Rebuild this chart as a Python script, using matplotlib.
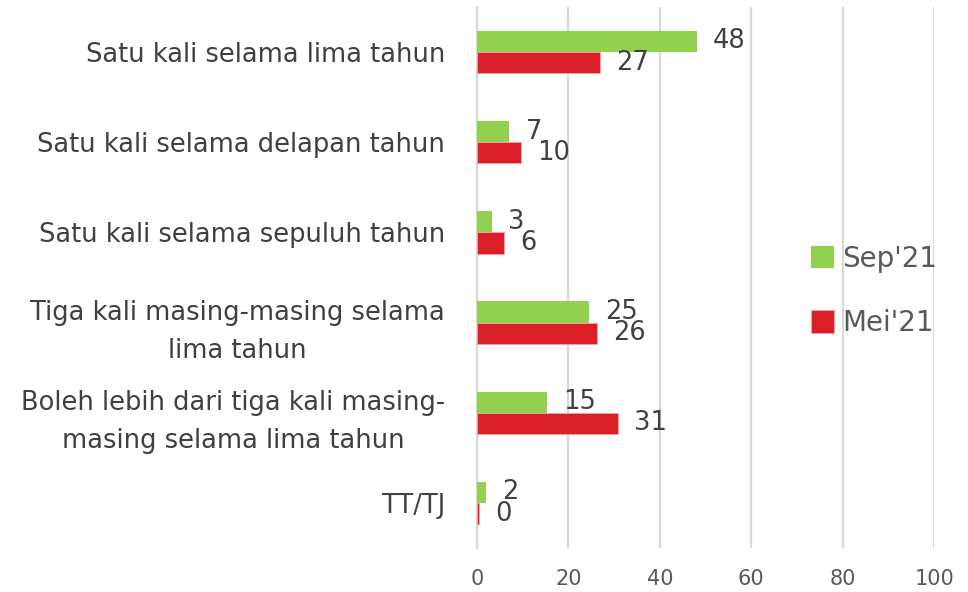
import matplotlib.pyplot as plt
import numpy as np

plt.rcParams['font.family'] = ['DejaVu Sans']

# data
categories = [
    "Satu kali selama lima tahun",
    "Satu kali selama delapan tahun",
    "Satu kali selama sepuluh tahun",
    "Tiga kali masing-masing selama\nlima tahun",
    "Boleh lebih dari tiga kali masing-\nmasing selama lima tahun",
    "TT/TJ",
]
sep21 = [48.1, 7.1, 3.2, 24.6, 15.4, 2.0]
mei21 = [27.0, 9.6, 6.0, 26.3, 30.8, 0.4]
series_names = ["Sep'21", "Mei'21"]
x_ticks = [0, 20, 40, 60, 80, 100]

green = '#92d050'
red = '#da1f28'
text_dark = '#404040'
grid_col = '#d9d9d9'

fig = plt.figure(figsize=(9.68, 5.92), dpi=100)
ax = fig.add_axes([0.4928, 0.0743, 0.4722, 0.9139])

y = np.arange(len(categories))
h = 0.235
b1 = ax.barh(y - h / 2, sep21, height=h, color=green, label=series_names[0], zorder=3)
b2 = ax.barh(y + h / 2, mei21, height=h, color=red, label=series_names[1], zorder=3,
             edgecolor='#f2a0a4', linewidth=0.6)

# value labels
for bars, vals in [(b1, sep21), (b2, mei21)]:
    for rect, v in zip(bars, vals):
        ax.annotate(f"{v:.0f}", xy=(rect.get_width(), rect.get_y() + rect.get_height() / 2),
                    xytext=(11.5, 0), textcoords='offset points', ha='left', va='center',
                    fontsize=18.5, color=text_dark, zorder=4)

ax.set_xlim(0, 100)
ax.set_ylim(len(categories) - 0.5, -0.5)
ax.set_xticks(x_ticks)
ax.set_yticks(y)
ax.set_yticklabels(categories, fontsize=18.5, color=text_dark, multialignment='center',
                   linespacing=1.6)
ax.tick_params(axis='y', length=0, pad=23)
ax.tick_params(axis='x', length=0, pad=15, labelsize=15, labelcolor='#595959')

ax.grid(axis='x', color=grid_col, linewidth=1.6, zorder=0)
for s in ['top', 'right', 'bottom']:
    ax.spines[s].set_visible(False)
ax.spines['left'].set_color(grid_col)
ax.spines['left'].set_linewidth(1.6)

leg = ax.legend(loc='center left', bbox_to_anchor=(0.675, 0.475), frameon=False,
                fontsize=20, handlelength=0.85, handleheight=0.85, labelspacing=1.3,
                handletextpad=0.3, labelcolor='#595959')

plt.savefig("out.png", dpi=100)
